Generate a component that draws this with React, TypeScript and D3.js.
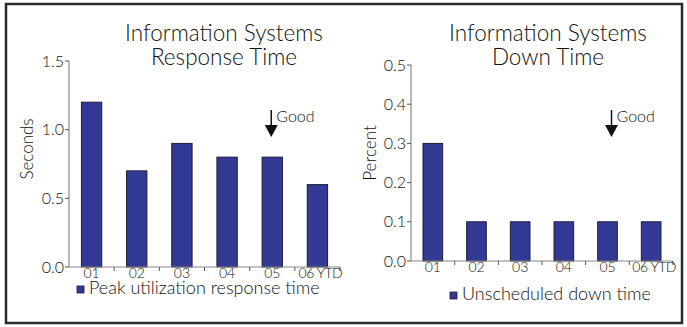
import React, { useRef, useEffect } from 'react';
import * as d3 from 'd3';

const categories = ['01', '02', '03', '04', '05', '06 YTD'];
const responseTime = [1.2, 0.7, 0.9, 0.8, 0.8, 0.6];
const downTime = [0.3, 0.1, 0.1, 0.1, 0.1, 0.1];
const responseTicks = [0, 0.5, 1.0, 1.5];
const downTicks = [0, 0.1, 0.2, 0.3, 0.4, 0.5];

const FONT = 'Lato, "Open Sans", sans-serif';
const TEXT = '#111';
const BAR = '#333a95';

type PanelSpec = {
  title: string[];
  titleX: number;
  yLabel: string;
  yLabelX: number;
  yLabelY: number;
  values: number[];
  ticks: number[];
  yMax: number;
  x0: number;
  x1: number;
  yTop: number;
  yBottom: number;
  legend: string;
  legendX: number;
  legendY: number;
  goodDx: number;
};

function drawPanel(svg: d3.Selection<SVGSVGElement, unknown, null, undefined>, p: PanelSpec) {
  const g = svg.append('g');

  const x = d3.scaleBand<string>().domain(categories).range([p.x0, p.x1]);
  const y = d3.scaleLinear().domain([0, p.yMax]).range([p.yBottom, p.yTop]);
  const barW = x.bandwidth() * 0.45;

  // Title
  p.title.forEach((line, i) => {
    g.append('text')
      .attr('x', p.titleX)
      .attr('y', 41 + i * 24)
      .attr('text-anchor', 'middle')
      .attr('font-size', '22.5px')
      .attr('fill', TEXT)
      .text(line);
  });

  // Y axis
  g.append('line')
    .attr('x1', p.x0).attr('x2', p.x0)
    .attr('y1', y(p.yMax)).attr('y2', y(0))
    .attr('stroke', '#8a8a8a').attr('stroke-width', 1.2);

  p.ticks.forEach((t) => {
    g.append('line')
      .attr('x1', p.x0 - 4).attr('x2', p.x0)
      .attr('y1', y(t)).attr('y2', y(t))
      .attr('stroke', '#555').attr('stroke-width', 1);
    g.append('text')
      .attr('x', p.x0 - 5)
      .attr('y', y(t))
      .attr('dy', '0.35em')
      .attr('text-anchor', 'end')
      .attr('font-size', '16px')
      .attr('fill', TEXT)
      .text(t.toFixed(1));
  });

  g.append('text')
    .attr('transform', `translate(${p.yLabelX},${p.yLabelY}) rotate(-90)`)
    .attr('text-anchor', 'middle')
    .attr('dy', '0.35em')
    .attr('font-size', '17px')
    .attr('fill', TEXT)
    .text(p.yLabel);

  // Bars
  g.selectAll('.bar')
    .data(p.values)
    .enter()
    .append('rect')
    .attr('x', (_, i) => x(categories[i])! + (x.bandwidth() - barW) / 2)
    .attr('y', (d) => y(d))
    .attr('width', barW)
    .attr('height', (d) => y(0) - y(d))
    .attr('fill', BAR)
    .attr('stroke', '#1d1d3a')
    .attr('stroke-width', 1);

  // X axis
  g.append('line')
    .attr('x1', p.x0).attr('x2', p.x1)
    .attr('y1', y(0)).attr('y2', y(0))
    .attr('stroke', '#8a8a8a').attr('stroke-width', 1.2);

  categories.forEach((c) => {
    const bx = x(c)! + x.bandwidth();
    g.append('line')
      .attr('x1', bx).attr('x2', bx)
      .attr('y1', y(0)).attr('y2', y(0) + 4)
      .attr('stroke', '#555').attr('stroke-width', 1);
    g.append('text')
      .attr('x', x(c)! + x.bandwidth() / 2 + (c.length > 2 ? 3 : 0))
      .attr('y', y(0) + 11)
      .attr('text-anchor', 'middle')
      .attr('font-size', '14px')
      .attr('letter-spacing', c.length > 2 ? '-0.5px' : '0')
      .attr('fill', TEXT)
      .text(c);
  });

  // "Good" arrow over 05
  const ax = x('05')! + x.bandwidth() / 2 + p.goodDx;
  g.append('line')
    .attr('x1', ax).attr('x2', ax)
    .attr('y1', 110).attr('y2', 126)
    .attr('stroke', '#111').attr('stroke-width', 1.5);
  g.append('path')
    .attr('d', `M${ax - 6.5},125 L${ax + 6.5},125 L${ax},137 Z`)
    .attr('fill', '#111');
  g.append('text')
    .attr('x', ax + 5)
    .attr('y', 122)
    .attr('font-size', '16px')
    .attr('fill', TEXT)
    .text('Good');

  // Legend
  g.append('rect')
    .attr('x', p.legendX)
    .attr('y', p.legendY - 8)
    .attr('width', 7)
    .attr('height', 7)
    .attr('fill', BAR)
    .attr('stroke', '#1d1d3a')
    .attr('stroke-width', 0.8);
  g.append('text')
    .attr('x', p.legendX + 12)
    .attr('y', p.legendY)
    .attr('font-size', '18px')
    .attr('fill', TEXT)
    .text(p.legend);
}

export default function App() {
  const ref = useRef<SVGSVGElement>(null);

  useEffect(() => {
    if (!ref.current) return;
    document.body.style.margin = '0';
    const svg = d3.select(ref.current);
    svg.selectAll('*').remove();

    svg.append('rect')
      .attr('width', 687).attr('height', 327)
      .attr('fill', '#fff');

    // Outer frame
    svg.append('rect')
      .attr('x', 6).attr('y', 4)
      .attr('width', 676).attr('height', 319)
      .attr('fill', 'none')
      .attr('stroke', '#2a2a2a')
      .attr('stroke-width', 2.5);

    drawPanel(svg, {
      title: ['Information Systems', 'Response Time'],
      titleX: 224,
      yLabel: 'Seconds',
      yLabelX: 27,
      yLabelY: 149,
      values: responseTime,
      ticks: responseTicks,
      yMax: 1.5,
      x0: 69,
      x1: 340,
      yTop: 61,
      yBottom: 267,
      legend: 'Peak utilization response time',
      legendX: 77,
      legendY: 294,
      goodDx: -1,
    });

    drawPanel(svg, {
      title: ['Information Systems', 'Down Time'],
      titleX: 548,
      yLabel: 'Percent',
      yLabelX: 370,
      yLabelY: 153,
      values: downTime,
      ticks: downTicks,
      yMax: 0.5,
      x0: 411,
      x1: 673,
      yTop: 65,
      yBottom: 261,
      legend: 'Unscheduled down time',
      legendX: 450,
      legendY: 300,
      goodDx: 4,
    });

    svg.selectAll('text')
      .attr('font-family', FONT)
      .attr('font-weight', 300);
  }, []);

  return <svg ref={ref} width={687} height={327} style={{ display: 'block' }} />;
}
